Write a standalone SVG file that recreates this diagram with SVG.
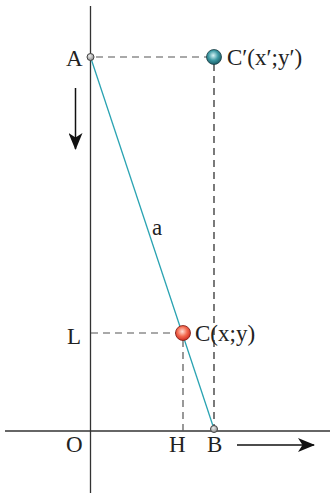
<svg xmlns="http://www.w3.org/2000/svg" width="330" height="493" viewBox="0 0 330 493">
<style>
.ax{stroke:#333;stroke-width:1.3;fill:none}
.dg{stroke:#555;stroke-width:1.2;stroke-dasharray:7 5;fill:none}
.dk{stroke:#222;stroke-width:1.2;stroke-dasharray:7 5;fill:none}
.seg{stroke:#2aa3b2;stroke-width:1.3;fill:none}
.arr{stroke:#111;stroke-width:1.5;fill:none}
.t{font-family:"Liberation Serif","Times New Roman",serif;font-size:23px;fill:#222}
.sm{stroke:#444;stroke-width:1;fill:url(#gGray)}
</style>
<defs>
<radialGradient id="gGray" cx="0.4" cy="0.35" r="0.7"><stop offset="0" stop-color="#eee"/><stop offset="1" stop-color="#888"/></radialGradient>
<radialGradient id="gTeal" cx="0.45" cy="0.4" r="0.65"><stop offset="0" stop-color="#d8f4f6"/><stop offset="0.5" stop-color="#3e9aa4"/><stop offset="1" stop-color="#14515b"/></radialGradient>
<radialGradient id="gRed" cx="0.45" cy="0.4" r="0.65"><stop offset="0" stop-color="#ffe0d8"/><stop offset="0.5" stop-color="#f46a50"/><stop offset="1" stop-color="#c8201a"/></radialGradient>
<marker id="ah" markerWidth="18" markerHeight="14" refX="16" refY="7" orient="auto" markerUnits="userSpaceOnUse"><path d="M0,0 L17,7 L0,14 L4.5,7 Z" fill="#111"/></marker>
</defs>
<g id="axes">
<line class="ax" x1="90.5" y1="6" x2="90.5" y2="493"/>
<line class="ax" x1="5" y1="431" x2="330" y2="431"/>
</g>
<g id="connectors">
<line class="dg" x1="96" y1="57" x2="207" y2="57"/>
<line class="dk" x1="214" y1="64" x2="214" y2="426"/>
<line class="dg" x1="91" y1="333" x2="176" y2="333"/>
<line class="dg" x1="183" y1="340" x2="183" y2="431"/>
<line class="seg" x1="90.5" y1="57" x2="214" y2="429"/>
<line class="arr" x1="75.5" y1="88" x2="75.5" y2="149" marker-end="url(#ah)"/>
<line class="arr" x1="237" y1="445" x2="314" y2="445" marker-end="url(#ah)"/>
</g>
<g id="A"><circle class="sm" cx="90.5" cy="57" r="3.5"/><text class="t" x="66" y="66">A</text></g>
<g id="Cp"><circle cx="214" cy="57" r="7.5" fill="url(#gTeal)" stroke="#1a3d44" stroke-width="0.8"/><text class="t" x="227" y="65">C′(x′;y′)</text></g>
<g id="C"><circle cx="183" cy="333" r="7.5" fill="url(#gRed)" stroke="#7a1a12" stroke-width="0.8"/><text class="t" x="195" y="341">C(x;y)</text></g>
<g id="B"><circle class="sm" cx="214" cy="429" r="3.5"/><text class="t" x="207" y="452">B</text></g>
<g id="L"><text class="t" x="67" y="344">L</text></g>
<g id="O"><text class="t" x="66" y="452">O</text></g>
<g id="H"><text class="t" x="169" y="452">H</text></g>
<g id="a"><text class="t" x="152" y="235">a</text></g>
</svg>
